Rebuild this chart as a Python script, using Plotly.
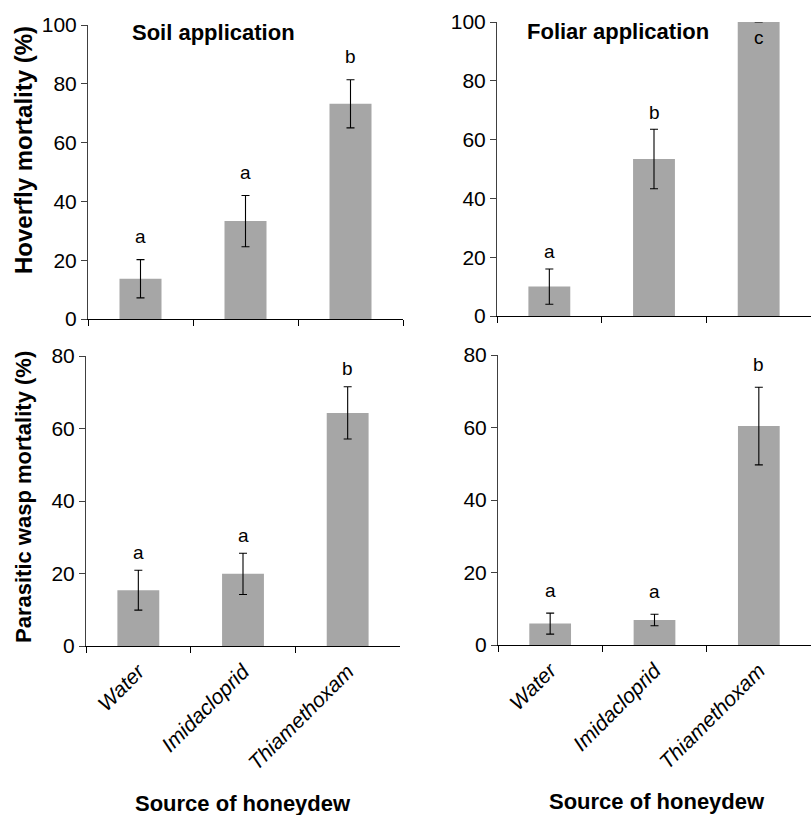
import plotly.graph_objects as go

W, H = 811, 815

categories = ["Water", "Imidacloprid", "Thiamethoxam"]

soil_hoverfly_mean = [13.7, 33.3, 73.2]
soil_hoverfly_se = [6.5, 8.7, 8.2]
soil_hoverfly_letters = ["a", "a", "b"]

foliar_hoverfly_mean = [10.0, 53.4, 100.0]
foliar_hoverfly_se = [6.0, 10.1, 0.0]
foliar_hoverfly_letters = ["a", "b", "c"]

soil_wasp_mean = [15.4, 19.9, 64.3]
soil_wasp_se = [5.5, 5.7, 7.2]
soil_wasp_letters = ["a", "a", "b"]

foliar_wasp_mean = [5.9, 6.9, 60.4]
foliar_wasp_se = [2.9, 1.6, 10.7]
foliar_wasp_letters = ["a", "a", "b"]

FONT = "Arial, Liberation Sans, sans-serif"
BAR = "#A6A6A6"


def px_x(p):
    return p / W


def px_y(p):
    return 1 - p / H


panels = [
    # (suffix, means, ses, letters, xdomain px, ydomain px (bottom, top), ymax, show labels, letter shift)
    ("", soil_hoverfly_mean, soil_hoverfly_se, soil_hoverfly_letters, (88, 403), (319, 25), 100, False, 23),
    ("2", foliar_hoverfly_mean, foliar_hoverfly_se, foliar_hoverfly_letters, (497, 811), (316, 22), 100, False, 17),
    ("3", soil_wasp_mean, soil_wasp_se, soil_wasp_letters, (86, 400), (646, 356), 80, True, 18),
    ("4", foliar_wasp_mean, foliar_wasp_se, foliar_wasp_letters, (498, 811), (645, 355), 80, True, 23),
]

fig = go.Figure()
annotations = []
layout = {}

for suf, means, ses, letters, xd, yd, ymax, showlab, shift in panels:
    xa = "x" + suf
    ya = "y" + suf
    fig.add_trace(go.Bar(
        x=categories, y=means, width=0.4,
        marker=dict(color=BAR, line=dict(width=0)),
        error_y=dict(type="data", array=ses, visible=True, color="#000000",
                     thickness=1.1, width=4),
        cliponaxis=False,
        xaxis=xa, yaxis=ya, showlegend=False,
    ))
    layout["xaxis" + suf] = dict(
        domain=[px_x(xd[0]), px_x(xd[1])], anchor=ya,
        range=[-0.5, 2.5], type="category", automargin=False,
        showline=True, linecolor="#000000", linewidth=1,
        ticks="outside", tickson="boundaries", ticklen=6, tickcolor="#000000",
        showticklabels=showlab, tickangle=-45, ticklabelstandoff=4,
        tickfont=dict(family=FONT, size=21, color="#000000", style="italic"),
        showgrid=False, zeroline=False, fixedrange=True,
    )
    layout["yaxis" + suf] = dict(
        domain=[px_y(yd[0]), px_y(yd[1])], anchor=xa,
        range=[0, ymax], dtick=20, tick0=0, automargin=False,
        showline=True, linecolor="#404040", linewidth=1,
        ticks="outside", ticklen=6, tickcolor="#404040",
        tickfont=dict(family=FONT, size=21, color="#000000"),
        showgrid=False, zeroline=False, fixedrange=True,
    )
    for c, m, s, l in zip(categories, means, ses, letters):
        annotations.append(dict(
            x=c, y=m + s, xref=xa, yref=ya,
            text=l, showarrow=False,
            xanchor="center", yanchor="middle",
            yshift=shift if s > 0 else -16,
            font=dict(family=FONT, size=19, color="#000000"),
        ))


def paper_text(x, y, text, size, angle=0):
    return dict(x=px_x(x), y=px_y(y), xref="paper", yref="paper",
                text=text, showarrow=False, textangle=angle,
                xanchor="center", yanchor="middle",
                font=dict(family=FONT, size=size, color="#000000"))


# Panel titles
annotations.append(paper_text(213, 33, "<b>Soil application</b>", 22))
annotations.append(paper_text(618, 31, "<b>Foliar application</b>", 22))
# Y-axis titles
annotations.append(paper_text(23, 150, "<b>Hoverfly mortality (%)</b>", 24, -90))
annotations.append(paper_text(23, 497, "<b>Parasitic wasp mortality (%)</b>", 22, -90))
# X-axis titles
annotations.append(paper_text(243, 803, "<b>Source of honeydew</b>", 22))
annotations.append(paper_text(657, 801, "<b>Source of honeydew</b>", 22))

fig.update_layout(
    width=W, height=H,
    margin=dict(l=0, r=0, t=0, b=0, autoexpand=False),
    paper_bgcolor="white", plot_bgcolor="white",
    bargap=0.6,
    annotations=annotations,
    **layout,
)

fig.write_html("out.html", config={"displayModeBar": False})
